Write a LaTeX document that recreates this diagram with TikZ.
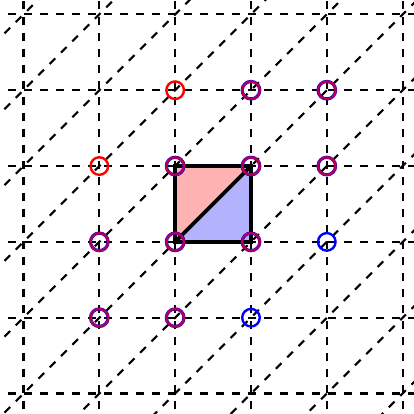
\documentclass[tikz,border=0pt]{standalone}
\begin{document}
\begin{tikzpicture}[x=1cm,y=1cm,
  gridline/.style={dashed, thick, black},
  bluering/.style={circle, draw=blue, line width=1.2pt, minimum size=6.6pt, inner sep=0pt},
  redring/.style={circle, draw=red, line width=0.9pt, minimum size=6.6pt, inner sep=0pt},
  redover/.style={circle, draw=red, draw opacity=0.7, line width=0.9pt, minimum size=6.6pt, inner sep=0pt},
  sqedge/.style={line width=1.4pt, black}]
\useasboundingbox (-2.31,-2.27) rectangle (3.15,3.19);
\clip (-2.31,-2.27) rectangle (3.15,3.19);
% lattice grid
\foreach \i in {-2,...,3} {
  \draw[gridline] (\i,-2.2) -- (\i,3.2);
  \draw[gridline] (-2.2,\i) -- (3.2,\i);
}
% diagonals
\foreach \k in {-6,...,6} {
  \draw[gridline] (-2.4,-2.4+\k) -- (3.4,3.4+\k);
}
% square split into two triangles
\coordinate (A) at (0,0);
\coordinate (B) at (1,0);
\coordinate (C) at (1,1);
\coordinate (D) at (0,1);
\fill[red!30] (A) -- (C) -- (D) -- cycle;
\fill[blue!30] (A) -- (B) -- (C) -- cycle;
\draw[sqedge, line join=miter] (A) -- (B) -- (C) -- (D) -- cycle;
\draw[sqedge] (A) -- (C);
% rings
\foreach \p/\n in {{(1,2)}/p1, {(2,2)}/p2, {(0,1)}/p3, {(1,1)}/p4, {(2,1)}/p5, {(-1,0)}/p6, {(0,0)}/p7, {(1,0)}/p8, {(-1,-1)}/p9, {(0,-1)}/p10} {
  \node[bluering] (b\n) at \p {};
  \node[redover] (r\n) at \p {};
}
\node[redring] (r1) at (0,2) {};
\node[redring] (r2) at (-1,1) {};
\node[bluering, line width=0.9pt] (b1) at (2,0) {};
\node[bluering, line width=0.9pt] (b2) at (1,-1) {};
\end{tikzpicture}
\end{document}
